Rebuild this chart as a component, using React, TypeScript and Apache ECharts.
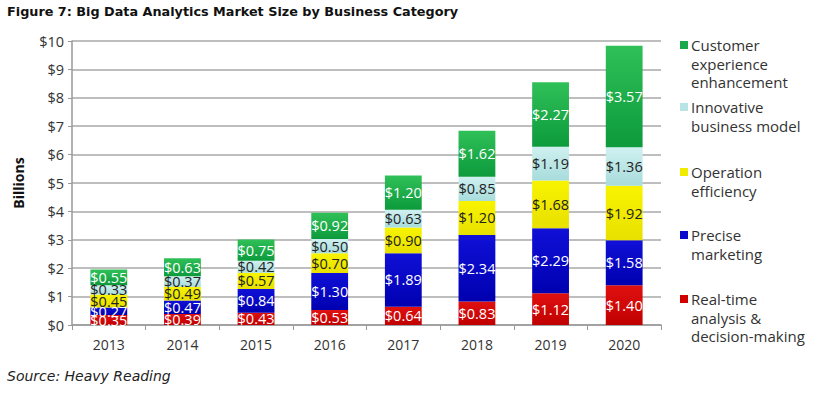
import React, { useEffect, useRef } from "react";
import * as echarts from "echarts";

const years = ["2013", "2014", "2015", "2016", "2017", "2018", "2019", "2020"];
const realTime = [0.35, 0.39, 0.43, 0.53, 0.64, 0.83, 1.12, 1.4];
const precise = [0.27, 0.47, 0.84, 1.3, 1.89, 2.34, 2.29, 1.58];
const operation = [0.45, 0.49, 0.57, 0.7, 0.9, 1.2, 1.68, 1.92];
const innovative = [0.33, 0.37, 0.42, 0.5, 0.63, 0.85, 1.19, 1.36];
const customer = [0.55, 0.63, 0.75, 0.92, 1.2, 1.62, 2.27, 3.57];

const seriesNames = [
  "Real-time analysis & decision-making",
  "Precise marketing",
  "Operation efficiency",
  "Innovative business model",
  "Customer experience enhancement",
];
const legendLines = [
  ["Customer", "experience", "enhancement"],
  ["Innovative", "business model"],
  ["Operation", "efficiency"],
  ["Precise", "marketing"],
  ["Real-time", "analysis &", "decision-making"],
];

const FONT = "Open Sans";

function grad(top: string, bottom: string) {
  return new echarts.graphic.LinearGradient(0, 0, 0, 1, [
    { offset: 0, color: top },
    { offset: 1, color: bottom },
  ]);
}

export default function App() {
  const ref = useRef<HTMLDivElement>(null);
  useEffect(() => {
    document.body.style.margin = "0";
    const chart = echarts.init(ref.current!, undefined, { renderer: "svg" });
    const colors = [
      grad("#e01010", "#c00000"),
      grad("#1010d8", "#0000b0"),
      grad("#f8f400", "#e8e000"),
      grad("#d0f0f0", "#a8dcdc"),
      grad("#30c058", "#0c9a3c"),
    ];
    const legendColors = ["#1aa84a", "#b8e4e4", "#f0ec00", "#0a0acc", "#d00000"];
    const labelColors = ["#ffffff", "#ffffff", "#222222", "#222222", "#ffffff"];
    const dataSets = [realTime, precise, operation, innovative, customer];
    const legendTops = [46, 108, 173, 236, 300];

    const graphics: any[] = [
      {
        type: "text",
        left: 7,
        top: 5,
        style: {
          text: "Figure 7: Big Data Analytics Market Size by Business Category",
          font: "bold 12.8px 'DejaVu Sans'",
          fill: "#111",
        },
      },
      {
        type: "text",
        left: 7,
        top: 369,
        style: {
          text: "Source: Heavy Reading",
          font: "oblique 14px 'DejaVu Sans'",
          fill: "#222",
        },
      },
    ];
    legendLines.forEach((lines, i) => {
      graphics.push({
        type: "rect",
        shape: { x: 680, y: legendTops[i] - 5, width: 8, height: 8 },
        style: { fill: legendColors[i] },
      });
      graphics.push({
        type: "text",
        x: 691,
        y: legendTops[i] - 10,
        style: {
          text: lines.join("\n"),
          font: `15px '${FONT}'`,
          lineHeight: 18.5,
          fill: "#333",
        },
      });
    });

    chart.setOption({
      animation: false,
      grid: { left: 72, top: 41, right: 163, bottom: 73 },
      graphic: graphics,
      xAxis: {
        type: "category",
        data: years,
        axisLine: { lineStyle: { color: "#999", width: 1.5 } },
        axisTick: { show: true, length: 5, lineStyle: { color: "#999" } },
        axisLabel: {
          color: "#333",
          fontFamily: FONT,
          fontSize: 14,
          margin: 12,
        },
      },
      yAxis: {
        type: "value",
        min: 0,
        max: 10,
        interval: 1,
        name: "Billions",
        nameLocation: "middle",
        nameGap: 47,
        nameTextStyle: {
          fontFamily: FONT,
          fontWeight: "bold",
          fontSize: 14,
          color: "#111",
        },
        axisLine: { show: true, lineStyle: { color: "#999", width: 1.5 } },
        axisTick: { show: true, length: 4, lineStyle: { color: "#999" } },
        splitLine: { lineStyle: { color: "#a8a8a8", width: 1.5 } },
        axisLabel: {
          color: "#333",
          fontFamily: FONT,
          fontSize: 14.5,
          margin: 8,
          formatter: (v: number) => "$" + v,
        },
      },
      series: dataSets.map((d, i) => ({
        type: "bar",
        name: seriesNames[i],
        stack: "total",
        data: d,
        barWidth: "50%",
        itemStyle: { color: colors[i] },
        label: {
          show: true,
          position: "inside",
          color: labelColors[i],
          fontFamily: FONT,
          fontSize: 14.5,
          formatter: (p: any) => "$" + p.value.toFixed(2),
        },
      })),
    });
    return () => chart.dispose();
  }, []);
  return <div ref={ref} style={{ width: 824, height: 398 }} />;
}
